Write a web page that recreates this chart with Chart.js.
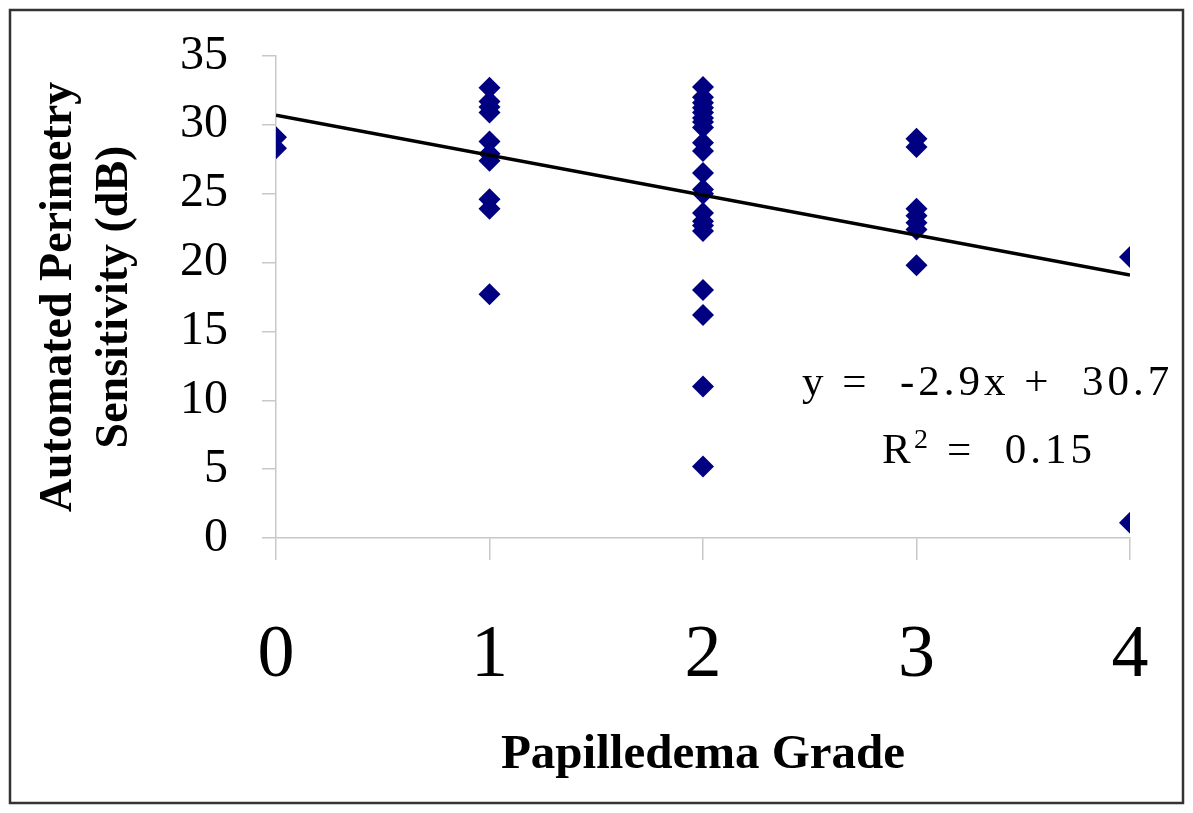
<!DOCTYPE html>
<html>
<head>
    <meta http-equiv="Content-Type" content="text/html; charset=utf-8"/>
    <title>Papilledema Grade vs Perimetry</title>
    <style>
        body { margin: 0; background: #fff; }
        #wrap { width: 1193px; height: 813px; }
    </style>
</head>
<body>
    <div id="wrap">
        <canvas id="myChart" width="1193" height="813"></canvas>
    </div>
    <script src="https://cdn.jsdelivr.net/npm/chart.js"></script>
    <script>
        // values, per papilledema grade
        const grade0 = [29.1, 28.3];
        const grade1 = [32.7, 31.7, 31.3, 30.9, 28.8, 27.9, 27.4, 24.6, 23.9, 17.7];
        const grade2 = [32.75, 32.0, 31.6, 31.25, 30.9, 30.5, 30.2, 29.8, 28.7, 28.1,
                        26.5, 25.3, 25.0, 23.6, 23.0, 22.7, 22.3, 18.0, 16.2, 11.0, 5.2];
        const grade3 = [29.0, 28.4, 23.9, 23.4, 22.9, 22.4, 19.8];
        const grade4 = [20.4, 1.1];

        const trendX = [0, 4];
        const trendY = [30.7, 19.1];

        const xTicks = [0, 1, 2, 3, 4];
        const yTicks = [0, 5, 10, 15, 20, 25, 30, 35];

        const groups = [grade0, grade1, grade2, grade3, grade4];
        const points = [];
        groups.forEach((vals, g) => vals.forEach(v => points.push({x: g, y: v})));

        const serif = "'Liberation Serif', 'Times New Roman', serif";

        const extras = {
            id: 'extras',
            afterDraw(chart) {
                const ctx = chart.ctx;
                ctx.save();
                // frame
                ctx.strokeStyle = '#333';
                ctx.lineWidth = 2.5;
                ctx.strokeRect(10, 10, 1173, 793);

                // regression equation
                ctx.fillStyle = '#000';
                ctx.textBaseline = 'alphabetic';
                ctx.textAlign = 'left';
                ctx.letterSpacing = '4px';
                ctx.font = '43px ' + serif;
                ctx.fillText('y =  -2.9x +  30.7', 802, 395);
                ctx.fillText('R', 882, 463);
                ctx.fillText('=  0.15', 947, 463);
                ctx.letterSpacing = '0px';
                ctx.font = '28px ' + serif;
                ctx.fillText('2', 914, 448);
                ctx.restore();
            }
        };

        const config = {
            data: {
                datasets: [
                    {
                        type: 'line',
                        label: 'Linear trend',
                        data: trendX.map((x, i) => ({x: x, y: trendY[i]})),
                        borderColor: '#000',
                        borderWidth: 3.5,
                        pointRadius: 0,
                        fill: false,
                        order: 0
                    },
                    {
                        type: 'scatter',
                        label: 'Sensitivity',
                        data: points,
                        pointStyle: 'rectRot',
                        pointRadius: 11,
                        backgroundColor: '#000080',
                        borderColor: '#000080',
                        borderWidth: 0,
                        order: 1
                    }
                ]
            },
            options: {
                responsive: false,
                animation: false,
                layout: { padding: { left: 0, right: 63, top: 56, bottom: 0 } },
                plugins: {
                    legend: { display: false },
                    tooltip: { enabled: false }
                },
                scales: {
                    x: {
                        type: 'linear',
                        min: 0,
                        max: 4,
                        afterFit: s => { s.height = 275; },
                        afterBuildTicks: s => { s.ticks = xTicks.map(v => ({value: v})); },
                        border: { color: '#c8c8c8', width: 1.5 },
                        grid: { drawOnChartArea: false, drawTicks: true, tickLength: 22, color: '#c8c8c8', lineWidth: 1.5 },
                        // tall lineHeight pushes labels down without widening the label overhang
                        ticks: { color: '#000', padding: 20, font: { family: serif, size: 74, lineHeight: 2.06 } },
                        title: {
                            display: true,
                            text: 'Papilledema Grade',
                            color: '#000',
                            font: { family: serif, size: 49, weight: 'bold', lineHeight: 1.2 },
                            padding: { top: 0, bottom: 28 }
                        }
                    },
                    y: {
                        min: 0,
                        max: 35,
                        afterFit: s => { s.width = 276; },
                        afterBuildTicks: s => { s.ticks = yTicks.map(v => ({value: v})); },
                        border: { color: '#c8c8c8', width: 1.5 },
                        grid: { drawOnChartArea: false, drawTicks: true, tickLength: 14, color: '#c8c8c8', lineWidth: 1.5 },
                        ticks: { color: '#000', padding: 34, font: { family: serif, size: 48, lineHeight: 0.6 } },
                        title: {
                            display: true,
                            text: ['Automated Perimetry', 'Sensitivity (dB)'],
                            color: '#000',
                            font: { family: serif, size: 46, weight: 'bold', lineHeight: 1.2 },
                            padding: { top: 32, bottom: 0 }
                        }
                    }
                }
            },
            plugins: [extras]
        };

        const myChart = new Chart(document.getElementById('myChart'), config);
    </script>
</body>
</html>
